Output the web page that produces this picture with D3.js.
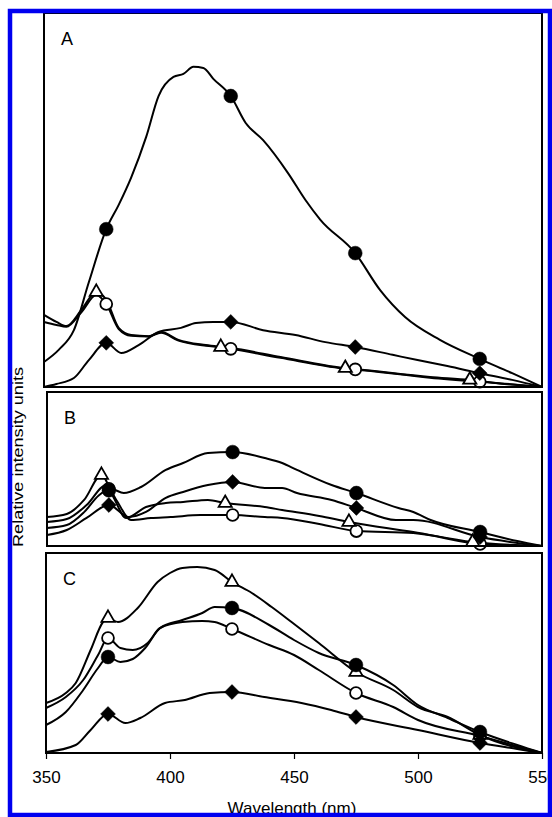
<!DOCTYPE html>
<html>
<head>
<meta charset="utf-8">
<script src="https://cdn.jsdelivr.net/npm/d3@7"></script>
<style>
  body { margin: 0; background: #fff; }
  svg { display: block; font-family: "Liberation Sans", Arial, sans-serif; }
</style>
</head>
<body>
<div id="chart"></div>
<script>
// wavelength axis
const wavelengthDomain = [350, 550];
const wavelengthTicks = [350, 400, 450, 500, 550];
const panelNames = ["A", "B", "C"];

// spectra: [wavelength nm, relative intensity (% of panel height)]
const A_filled = [[350,6.7],[356,10],[362,15.2],[368,28],[375,42.2],[380,48.7],[385,56],[391,66.8],[396,77.8],[402,82.9],[406,83.7],[410,85.6],[414,85.3],[418,82.4],[425,77.8],[431,70.6],[438,66],[448,57.2],[455,50],[461,44.7],[475,35.8],[485,25.9],[495,18.7],[509,12.6],[524,7.8],[538,3.7],[550,0]];
const A_open = [[350,17.4],[355,16.6],[359,16.1],[365,20],[371,24.6],[375,22.2],[380,15.5],[385,13.7],[392,13.5],[397,14.5],[404,12.4],[415,11],[421,10.6],[425,10.2],[445,7.8],[470,5],[475,4.7],[505,2.5],[525,1.4],[535,0.9],[550,0]];
const A_tri = [[350,19.3],[355,17.4],[359,16.3],[365,20.6],[371,25.4],[375,23.3],[380,15.8],[385,13.9],[392,13.6],[397,14.7],[404,12.6],[415,11.2],[421,10.7],[425,10.4],[445,8],[470,5.1],[475,4.8],[505,2.7],[521,1.9],[535,0.8],[550,0]];
const A_dia = [[350,0],[355,0.8],[362,2.4],[368,7.2],[375,11.8],[381,9.1],[388,11.2],[396,14.7],[405,15.8],[411,17.1],[418,17.4],[425,17.4],[438,15.2],[451,13.9],[463,12],[475,10.7],[490,8.6],[500,7.2],[512,5.6],[525,3.7],[538,1.9],[550,0]];

const B_filled = [[350,11.7],[358,13.6],[365,22],[371,33],[376,37],[381,34.4],[388,38.3],[398,49.4],[405,53.9],[415,60.4],[425,61],[438,57.1],[445,53.9],[451,49.4],[465,39.6],[475,34.4],[492,24.7],[498,22.1],[505,16.9],[525,9.1],[540,3.2],[550,0]];
const B_open = [[350,15.6],[358,17.5],[366,26.6],[374,39.6],[378,29.9],[384,16.9],[392,18.2],[400,18.8],[412,20.1],[425,20.1],[438,18.8],[445,18.2],[460,14.3],[475,9.7],[498,8.4],[525,1.3],[550,0]];
const B_tri = [[350,18.8],[358,20.8],[365,29.9],[372,46.1],[377,31.2],[382,18.2],[390,25.3],[398,27.9],[405,28.6],[415,29.9],[422,27.9],[438,25.3],[445,23.4],[460,19.5],[472,15.6],[498,9.1],[522,2.6],[550,0]];
const B_dia = [[350,7.1],[358,10.4],[366,18.2],[375,26.6],[383,18.8],[390,22.1],[398,31.2],[405,35.1],[415,39.6],[425,41.6],[438,37.7],[445,37.7],[451,34.4],[465,29.9],[475,24.7],[491,16.9],[498,16.9],[525,5.8],[550,0]];

const C_filled = [[350,14],[358,20.5],[365,31.5],[371,42.5],[375,48],[380,45.5],[385,47],[390,52.5],[396,62.5],[405,66.5],[413,70],[418,73],[425,72.5],[440,64],[450,56.5],[460,50],[475,44],[490,34],[500,24],[512,17.5],[525,10.5],[540,4],[550,0]];
const C_open = [[350,22.5],[358,28],[365,36.5],[371,49],[375,57.5],[380,52.5],[385,51.5],[391,55],[396,62.5],[405,65.5],[413,66],[418,65.5],[425,62],[440,54],[450,49],[460,41.5],[475,30],[490,23],[500,16.5],[525,8.5],[550,0]];
const C_tri = [[350,25],[358,30],[362,35],[368,51.5],[373,65.5],[375,67.5],[379,65.5],[387,72.5],[395,85.5],[400,90],[405,92.5],[411,93],[418,91.5],[425,85.5],[433,80],[441,73],[449,65.5],[460,55],[475,40.5],[490,31.5],[500,23],[512,18],[525,9],[550,0]];
const C_dia = [[350,0.5],[362,4],[368,11.5],[375,19.5],[382,15],[388,17.5],[398,25],[406,26.5],[416,30],[425,30.5],[438,28],[453,25],[465,21.5],[475,18],[500,11.5],[525,5],[540,2],[550,0]];

// wavelengths where each series carries its symbol
const markersStd = [375, 425, 475, 525];
const markersTriA = [371, 421, 471, 521];
const markersTriB = [372, 422, 472, 522];

const panels = [
  { name: "A", box: [44, 13, 542, 387], series: [
    { kind: "open", data: A_open, marks: markersStd },
    { kind: "tri", data: A_tri, marks: markersTriA },
    { kind: "dia", data: A_dia, marks: markersStd },
    { kind: "filled", data: A_filled, marks: markersStd } ] },
  { name: "B", box: [47, 392, 542, 546], series: [
    { kind: "open", data: B_open, marks: markersStd },
    { kind: "tri", data: B_tri, marks: markersTriB },
    { kind: "dia", data: B_dia, marks: markersStd },
    { kind: "filled", data: B_filled, marks: markersStd } ] },
  { name: "C", box: [46, 553, 542, 753], series: [
    { kind: "open", data: C_open, marks: markersStd },
    { kind: "dia", data: C_dia, marks: markersStd },
    { kind: "tri", data: C_tri, marks: markersStd },
    { kind: "filled", data: C_filled, marks: markersStd } ] }
];

const W = 552, H = 817;
const svg = d3.select("#chart").append("svg").attr("width", W).attr("height", H);

const symbols = {
  filled: { type: d3.symbolCircle, size: 150, fill: "#000", rot: 0 },
  open: { type: d3.symbolCircle, size: 110, fill: "#fff", rot: 0 },
  tri: { type: d3.symbolTriangle, size: 75, fill: "#fff", rot: 0 },
  dia: { type: d3.symbolSquare, size: 110, fill: "#000", rot: 45 }
};

panels.forEach((p, i) => {
  const [x0, y0, x1, y1] = p.box;
  const x = d3.scaleLinear().domain(wavelengthDomain).range([x0, x1]);
  const y = d3.scaleLinear().domain([0, 100]).range([y1, y0]);
  const g = svg.append("g");

  const line = d3.line().x(d => x(d[0])).y(d => y(d[1])).curve(d3.curveMonotoneX);
  p.series.forEach(s => {
    g.append("path").datum(s.data)
      .attr("d", line)
      .attr("fill", "none")
      .attr("stroke", "#000")
      .attr("stroke-width", 2)
      .attr("stroke-linejoin", "round");
  });

  p.series.forEach(s => {
    const interp = d3.scaleLinear().domain(s.data.map(d => d[0])).range(s.data.map(d => d[1]));
    const sym = symbols[s.kind];
    g.selectAll(null).data(s.marks).enter().append("path")
      .attr("d", d3.symbol().type(sym.type).size(sym.size))
      .attr("transform", d => `translate(${x(d)},${y(interp(d))}) rotate(${sym.rot})`)
      .attr("fill", sym.fill)
      .attr("stroke", "#000")
      .attr("stroke-width", sym.fill === "#fff" ? 1.8 : 0.5);
  });

  g.append("rect")
    .attr("x", x0).attr("y", y0)
    .attr("width", x1 - x0).attr("height", y1 - y0)
    .attr("fill", "none").attr("stroke", "#000").attr("stroke-width", 2);

  g.append("text")
    .attr("x", x0 + 17).attr("y", y0 + 32)
    .attr("font-size", 18)
    .text(p.name);

  if (i === panels.length - 1) {
    const axis = d3.axisBottom(x).tickValues(wavelengthTicks).tickSize(6).tickPadding(12).tickFormat(d3.format("d"));
    const ax = svg.append("g").attr("transform", `translate(0,${y1})`).call(axis);
    ax.select(".domain").remove();
    ax.selectAll(".tick line").attr("stroke", "#000").attr("stroke-width", 1.2);
    ax.selectAll(".tick text").attr("font-size", 17).attr("fill", "#000")
      .attr("font-family", "'Liberation Sans', Arial, sans-serif");
    svg.append("text")
      .attr("x", (x0 + x1) / 2 - 2).attr("y", 814)
      .attr("text-anchor", "middle").attr("font-size", 17)
      .text("Wavelength (nm)");
  }
});

svg.append("text")
  .attr("transform", "translate(23,457) rotate(-90)")
  .attr("text-anchor", "middle").attr("font-size", 14.5)
  .attr("textLength", 180).attr("lengthAdjust", "spacingAndGlyphs")
  .text("Relative intensity units");

// blue outer frame
svg.append("rect")
  .attr("x", 10).attr("y", 11)
  .attr("width", 540).attr("height", 804)
  .attr("fill", "none").attr("stroke", "#0000f0").attr("stroke-width", 4.5);
</script>
</body>
</html>
